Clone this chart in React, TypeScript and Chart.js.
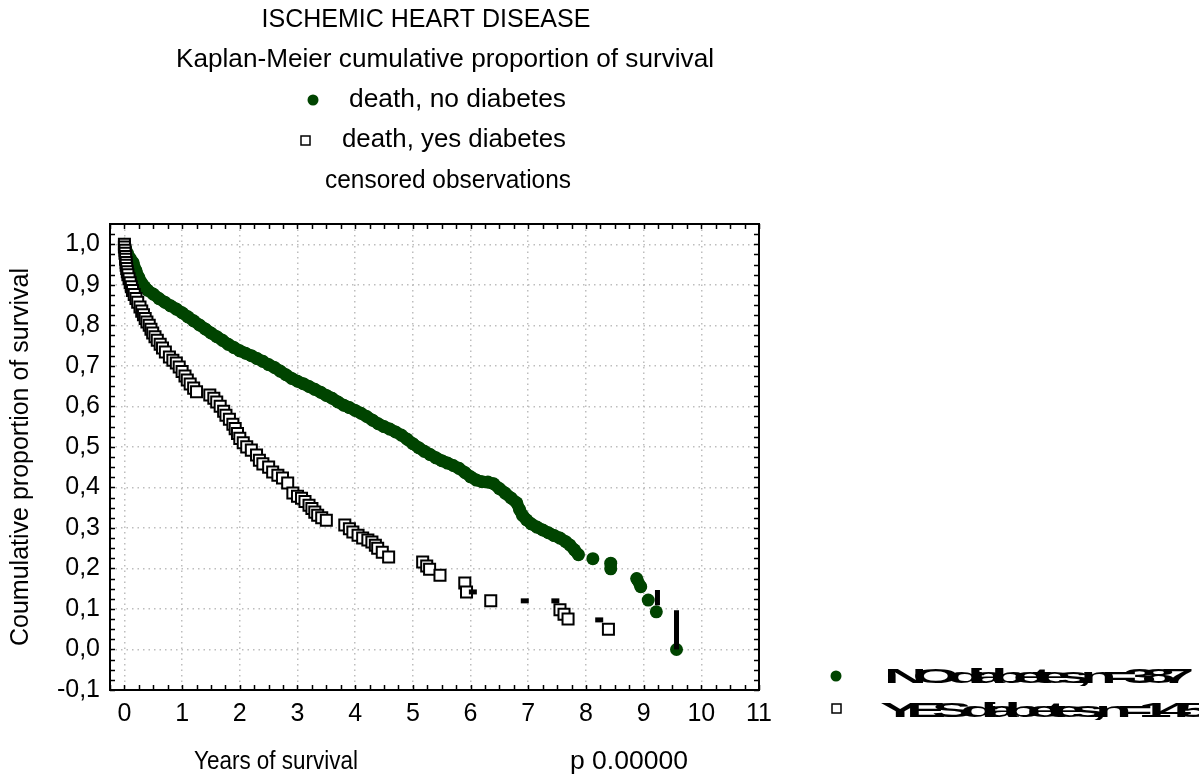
import React, { useEffect, useRef } from 'react';
import { Chart, registerables } from 'chart.js';

Chart.register(...registerables);

// ---- data (years, cumulative proportion surviving) ----
const noDiabetesYears = [
  0, 0.02, 0.05, 0.1, 0.15, 0.2, 0.25, 0.3, 0.35, 0.4, 0.5, 0.6, 0.7, 0.8, 0.9, 1.0,
  1.1, 1.2, 1.3, 1.4, 1.5, 1.6, 1.7, 1.8, 1.9, 2.0, 2.1, 2.2, 2.3, 2.4, 2.5, 2.6, 2.7,
  2.8, 2.9, 3.0, 3.1, 3.2, 3.3, 3.4, 3.5, 3.6, 3.7, 3.8, 3.9, 4.0, 4.1, 4.2, 4.3, 4.4,
  4.5, 4.6, 4.7, 4.8, 4.9, 5.0, 5.1, 5.2, 5.3, 5.4, 5.5, 5.6, 5.7, 5.8, 5.9, 6.0, 6.1,
  6.2, 6.3, 6.4, 6.5, 6.6, 6.7, 6.8, 6.85, 6.9, 6.97, 7.05, 7.15, 7.25, 7.35, 7.45,
  7.55, 7.65, 7.72, 7.8, 7.87, 8.12, 8.43, 8.43, 8.88, 8.95, 9.08, 9.22, 9.57,
];
const noDiabetesSurvival = [
  1.0, 0.99, 0.978, 0.965, 0.955, 0.935, 0.918, 0.904, 0.895, 0.887, 0.877, 0.866, 0.857,
  0.848, 0.84, 0.831, 0.821, 0.811, 0.801, 0.791, 0.781, 0.772, 0.763, 0.753, 0.745,
  0.737, 0.731, 0.725, 0.718, 0.711, 0.703, 0.696, 0.687, 0.678, 0.669, 0.662, 0.656,
  0.649, 0.642, 0.635, 0.627, 0.62, 0.611, 0.603, 0.597, 0.59, 0.583, 0.575, 0.566,
  0.557, 0.55, 0.544, 0.537, 0.529, 0.519, 0.508, 0.498, 0.489, 0.481, 0.473, 0.466,
  0.46, 0.454, 0.447, 0.437, 0.426, 0.418, 0.414, 0.413, 0.409, 0.397, 0.386, 0.374,
  0.362, 0.345, 0.331, 0.32, 0.31, 0.302, 0.295, 0.288, 0.281, 0.275, 0.266, 0.258,
  0.246, 0.234, 0.224, 0.213, 0.199, 0.175, 0.155, 0.122, 0.093, 0.0,
];

const yesDiabetesYears = [
  0, 0, 0.01, 0.01, 0.02, 0.02, 0.03, 0.03, 0.04, 0.05, 0.06, 0.08, 0.1, 0.12, 0.14,
  0.17, 0.2, 0.23, 0.27, 0.3, 0.33, 0.36, 0.39, 0.43, 0.46, 0.49, 0.53, 0.57, 0.62,
  0.66, 0.71, 0.78, 0.84, 0.9, 0.95, 1.0, 1.05, 1.09, 1.14, 1.2, 1.25, 1.48, 1.55, 1.6,
  1.66, 1.72, 1.76, 1.82, 1.88, 1.92, 1.96, 2.0, 2.06, 2.12, 2.2, 2.29, 2.34, 2.4, 2.5,
  2.57, 2.66, 2.74, 2.83, 2.92, 3.0, 3.07, 3.13, 3.2, 3.25, 3.3, 3.35, 3.42, 3.5, 3.82,
  3.9, 3.96, 4.05, 4.13, 4.22, 4.29, 4.35, 4.39, 4.47, 4.58, 5.17, 5.24, 5.29, 5.47,
  5.9, 5.93, 6.35, 7.55, 7.62, 7.69, 8.39,
];
const yesDiabetesSurvival = [
  1.0, 0.993, 0.985, 0.978, 0.97, 0.963, 0.955, 0.948, 0.94, 0.932, 0.925, 0.915, 0.905,
  0.895, 0.886, 0.876, 0.866, 0.857, 0.845, 0.835, 0.826, 0.817, 0.808, 0.8, 0.79,
  0.781, 0.772, 0.763, 0.753, 0.744, 0.734, 0.722, 0.714, 0.707, 0.697, 0.686, 0.675,
  0.665, 0.655, 0.645, 0.636, 0.628, 0.62, 0.611, 0.6, 0.588, 0.578, 0.568, 0.556,
  0.545, 0.533, 0.521, 0.51, 0.5, 0.492, 0.48, 0.467, 0.458, 0.45, 0.438, 0.43, 0.423,
  0.411, 0.386, 0.378, 0.373, 0.365, 0.356, 0.348, 0.339, 0.331, 0.325, 0.319, 0.307,
  0.298, 0.29, 0.282, 0.275, 0.27, 0.265, 0.257, 0.25, 0.24, 0.228, 0.216, 0.206, 0.198,
  0.183, 0.164, 0.142, 0.12, 0.098, 0.087, 0.075, 0.05,
];

const censoredYears = [6.04, 6.94, 7.47, 8.23];
const censoredSurvival = [0.142, 0.12, 0.12, 0.073];

const dropYears = [9.24, 9.24, 9.57, 9.57];
const dropSurvival = [0.147, 0.109, 0.097, 0.0];

const xTickValues = [0, 1, 2, 3, 4, 5, 6, 7, 8, 9, 10, 11];
const yTickValues = [-0.1, 0.0, 0.1, 0.2, 0.3, 0.4, 0.5, 0.6, 0.7, 0.8, 0.9, 1.0];

const titleLines = ['ISCHEMIC HEART DISEASE', 'Kaplan-Meier cumulative proportion of survival'];
const legendLabels = ['death, no diabetes', 'death, yes diabetes', 'censored observations'];
const groupLabels = ['NO diabetes, n=387', 'YES diabetes, n=145'];
const xAxisTitle = 'Years of survival';
const yAxisTitle = 'Coumulative proportion of survival';
const pValueText = 'p 0.00000';

const GREEN = '#004400';
const FONT = '"Liberation Sans", Arial, sans-serif';

const toPoints = (xs: number[], ys: number[]) => xs.map((x, i) => ({ x, y: ys[i] }));

function drawText(
  ctx: CanvasRenderingContext2D,
  s: string,
  x: number,
  y: number,
  size: number,
  align: CanvasTextAlign,
  width?: number,
) {
  ctx.save();
  ctx.font = `${size}px ${FONT}`;
  ctx.textAlign = align;
  ctx.textBaseline = 'middle';
  ctx.translate(x, y);
  if (width) {
    const w = ctx.measureText(s).width;
    ctx.scale(width / w, 1);
  }
  ctx.fillText(s, 0, 0);
  ctx.restore();
}

const frameAndTextPlugin = {
  id: 'frameAndText',
  afterDraw(chart: any) {
    const { ctx, chartArea: a, scales } = chart;
    const xs = scales.x;
    const ys = scales.y;
    ctx.save();
    // frame
    ctx.strokeStyle = '#000';
    ctx.lineWidth = 2;
    ctx.strokeRect(a.left, a.top, a.right - a.left, a.bottom - a.top);
    // minor ticks (inward)
    ctx.lineWidth = 1.5;
    ctx.beginPath();
    for (let v = -0.25; v <= 11.0001; v += 0.25) {
      const px = Math.round(xs.getPixelForValue(v)) + 0.5;
      ctx.moveTo(px, a.bottom);
      ctx.lineTo(px, a.bottom - 5);
      ctx.moveTo(px, a.top);
      ctx.lineTo(px, a.top + 5);
    }
    for (let v = -0.1; v <= 1.05; v += 0.025) {
      const py = Math.round(ys.getPixelForValue(v)) + 0.5;
      ctx.moveTo(a.left, py);
      ctx.lineTo(a.left + 5, py);
      ctx.moveTo(a.right, py);
      ctx.lineTo(a.right - 5, py);
    }
    ctx.stroke();

    // texts
    ctx.fillStyle = '#000';
    drawText(ctx, titleLines[0], 426, 20, 25, 'center');
    drawText(ctx, titleLines[1], 445, 60, 26, 'center', 538);
    drawText(ctx, legendLabels[0], 349, 100, 26, 'left', 217);
    drawText(ctx, legendLabels[1], 342, 140, 26, 'left', 224);
    drawText(ctx, legendLabels[2], 325, 181, 26, 'left', 246);

    // legend markers
    ctx.fillStyle = GREEN;
    ctx.beginPath();
    ctx.arc(313, 100, 5.5, 0, Math.PI * 2);
    ctx.fill();
    ctx.fillStyle = '#fff';
    ctx.strokeStyle = '#000';
    ctx.lineWidth = 1.5;
    ctx.fillRect(301, 136, 9, 9);
    ctx.strokeRect(301, 136, 9, 9);

    // axis titles
    ctx.fillStyle = '#000';
    drawText(ctx, xAxisTitle, 194, 762, 25, 'left', 164);
    drawText(ctx, pValueText, 570, 762, 25, 'left', 118);
    ctx.save();
    ctx.translate(21, 457);
    ctx.rotate(-Math.PI / 2);
    drawText(ctx, yAxisTitle, 0, 0, 25, 'center', 378);
    ctx.restore();

    // group legend (bottom right)
    ctx.fillStyle = GREEN;
    ctx.beginPath();
    ctx.arc(836, 676, 5.5, 0, Math.PI * 2);
    ctx.fill();
    ctx.fillStyle = '#fff';
    ctx.strokeStyle = '#000';
    ctx.lineWidth = 1.5;
    ctx.fillRect(832, 704, 9, 9);
    ctx.strokeRect(832, 704, 9, 9);

    ctx.fillStyle = '#000';
    const targets = [
      { text: groupLabels[0], x: 884, y: 677, w: 296 },
      { text: groupLabels[1], x: 880, y: 711, w: 316 },
    ];
    for (const t of targets) {
      ctx.save();
      ctx.font = `bold 21px ${FONT}`;
      (ctx as any).letterSpacing = '-5px';
      ctx.textBaseline = 'middle';
      const w = ctx.measureText(t.text).width;
      ctx.translate(t.x, t.y);
      ctx.scale(t.w / w, 1);
      ctx.textAlign = 'left';
      ctx.fillText(t.text, 0, 0);
      ctx.restore();
    }
    ctx.restore();
  },
};

export default function App() {
  const canvasRef = useRef<HTMLCanvasElement | null>(null);

  useEffect(() => {
    document.body.style.margin = '0';
    const canvas = canvasRef.current;
    if (!canvas) return;
    const chart = new Chart(canvas, {
      type: 'scatter',
      data: {
        datasets: [
          {
            label: 'censored',
            data: toPoints(censoredYears, censoredSurvival),
            pointStyle: 'line',
            radius: 4,
            borderWidth: 5,
            borderColor: '#000',
            backgroundColor: '#000',
            order: 0,
          },
          {
            label: 'drop',
            data: [
              { x: dropYears[0], y: dropSurvival[0] },
              { x: dropYears[1], y: dropSurvival[1] },
              { x: 9.4, y: null as any },
              { x: dropYears[2], y: dropSurvival[2] },
              { x: dropYears[3], y: dropSurvival[3] },
            ],
            showLine: true,
            spanGaps: false,
            borderColor: '#000',
            borderWidth: 5,
            pointRadius: 0,
            order: 1,
          },
          {
            label: legendLabels[1],
            data: toPoints(yesDiabetesYears, yesDiabetesSurvival),
            pointStyle: 'rect',
            radius: 7.8,
            borderWidth: 2,
            borderColor: '#000',
            backgroundColor: '#fff',
            order: 2,
          },
          {
            label: legendLabels[0],
            data: toPoints(noDiabetesYears, noDiabetesSurvival),
            pointStyle: 'circle',
            radius: 6.5,
            borderWidth: 12,
            pointBorderWidth: 0,
            borderColor: GREEN,
            pointBorderColor: GREEN,
            backgroundColor: GREEN,
            pointBackgroundColor: GREEN,
            showLine: true,
            borderCapStyle: 'round',
            borderJoinStyle: 'round',
            segment: {
              borderColor: (c: any) =>
                c.p1.parsed.x - c.p0.parsed.x > 0.105 ? 'rgba(0,0,0,0)' : GREEN,
            },
            order: 3,
          },
        ],
      },
      options: {
        responsive: false,
        animation: false,
        events: [],
        layout: { padding: { left: 40, top: 224, right: 440, bottom: 40 } },
        plugins: { legend: { display: false }, tooltip: { enabled: false }, title: { display: false } },
        scales: {
          x: {
            type: 'linear',
            min: -0.25,
            max: 11,
            afterFit: (s: any) => { s.height = 46; },
            afterBuildTicks: (s: any) => { s.ticks = xTickValues.map((v) => ({ value: v })); },
            ticks: {
              stepSize: 1,
              includeBounds: false,
              color: '#000',
              padding: 9,
              font: { family: FONT, size: 25 },
              callback: (v: any) => String(v),
            },
            grid: { color: '#bdbdbd', lineWidth: 1.5, drawTicks: false },
            border: { display: false, dash: [1.5, 4] },
          },
          y: {
            type: 'linear',
            min: -0.1,
            max: 1.05,
            afterFit: (s: any) => { s.width = 70; },
            afterBuildTicks: (s: any) => { s.ticks = yTickValues.map((v) => ({ value: v })); },
            ticks: {
              stepSize: 0.1,
              includeBounds: false,
              color: '#000',
              padding: 10,
              font: { family: FONT, size: 25 },
              callback: (v: any) => Number(v).toFixed(1).replace('.', ','),
            },
            grid: { color: '#bdbdbd', lineWidth: 1.5, drawTicks: false },
            border: { display: false, dash: [1.5, 4] },
          },
        },
      },
      plugins: [frameAndTextPlugin],
    });
    return () => chart.destroy();
  }, []);

  return (
    <div style={{ width: 1199, height: 776, background: '#fff' }}>
      <canvas ref={canvasRef} width={1199} height={776} />
    </div>
  );
}
